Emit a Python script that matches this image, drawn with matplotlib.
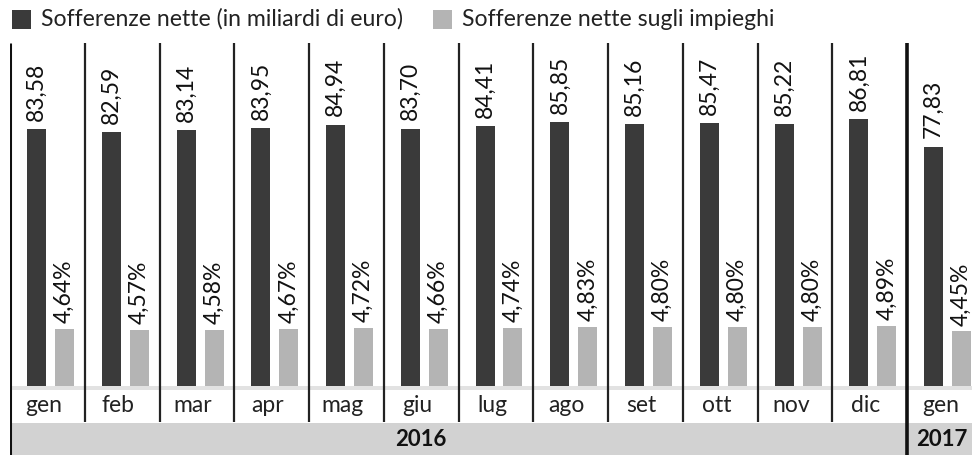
import matplotlib
matplotlib.use("Agg")
import matplotlib.pyplot as plt
from matplotlib.patches import Rectangle

months = ["gen", "feb", "mar", "apr", "mag", "giu", "lug", "ago", "set", "ott", "nov", "dic", "gen"]
sofferenze = [83.58, 82.59, 83.14, 83.95, 84.94, 83.70, 84.41, 85.85, 85.16, 85.47, 85.22, 86.81, 77.83]
rapporto = [4.64, 4.57, 4.58, 4.67, 4.72, 4.66, 4.74, 4.83, 4.80, 4.80, 4.80, 4.89, 4.45]
years = ["2016", "2017"]
year_groups = [12, 1]
legend_labels = ["Sofferenze nette (in miliardi di euro)", "Sofferenze nette sugli impieghi"]

DARK = "#3a3a3a"
LIGHT = "#b4b4b4"
FONT = "Lato"
WEIGHT = "normal"

W, H = 972, 455
fig = plt.figure(figsize=(W / 100, H / 100), dpi=100)

GW = 74.75   # group width in px
X0 = 10      # left border in px
n = len(months)
xmax = (W - X0) / GW


def fx(px):
    return px / W


def fy(py):
    return 1 - py / H


# frame axes in group units (x) and pixel units (y, top-down)
fr = fig.add_axes([fx(X0), 0, 1 - fx(X0), 1])
fr.set_xlim(0, xmax)
fr.set_ylim(H, 0)
fr.axis("off")

# year band
start = 0
year_pos = [5.5, 12.47]
for yr, g, cx in zip(years, year_groups, year_pos):
    fr.add_patch(Rectangle((start + 0.02, 423), g - 0.04, 32, facecolor="#d2d2d2", edgecolor="none"))
    fr.text(cx, 440, yr, ha="center", va="center", fontsize=16, fontweight="bold",
            family=FONT, color="#111111")
    start += g

# dotted band under bars
fr.add_patch(Rectangle((0, 386), xmax, 4, facecolor="#e2e2e2", edgecolor="none"))

# separators
fr.plot([0, 0], [43, 455], color="#111111", lw=2.2, solid_capstyle="butt")
for i in range(1, n):
    if i == year_groups[0]:
        fr.plot([i, i], [43, 455], color="#111111", lw=2.6, solid_capstyle="butt")
    else:
        fr.plot([i, i], [43, 422], color="#222222", lw=1.6, solid_capstyle="butt")

# month labels
for i, m in enumerate(months):
    fr.text(i + 0.45, 405, m, ha="center", va="center", fontsize=16.5, family=FONT,
            fontweight=WEIGHT, color="#222222")

# bar axes
top, bot = 43, 386
ax = fig.add_axes([fx(X0), fy(bot), 1 - fx(X0), (bot - top) / H])
ax.set_xlim(0, xmax)
ax.set_ylim(0, (bot - top) / 3.075)
ax.axis("off")
ax2 = ax.twinx()
ax2.set_ylim(0, (bot - top) / 12.3)
ax2.axis("off")

xs = list(range(n))
bw = 19 / GW
dark_x = [x + 26.5 / GW for x in xs]
light_x = [x + 54.5 / GW for x in xs]
ax.bar(dark_x, sofferenze, width=bw, color=DARK)
ax2.bar(light_x, rapporto, width=bw, color=LIGHT)

for x, v in zip(dark_x, sofferenze):
    ax.annotate(f"{v:.2f}".replace(".", ","), (x, v), xytext=(0, 6), textcoords="offset points",
                rotation=90, ha="center", va="bottom", fontsize=16.5, family=FONT,
                fontweight=WEIGHT, color="#111111")
for x, v in zip(light_x, rapporto):
    ax2.annotate(f"{v:.2f}".replace(".", ",") + "%", (x, v), xytext=(0, 4), textcoords="offset points",
                 rotation=90, ha="center", va="bottom", fontsize=16.5, family=FONT,
                 fontweight=WEIGHT, color="#111111")

# legend
fig.patches.append(Rectangle((fx(12), fy(29)), fx(19), 19 / H, transform=fig.transFigure,
                             facecolor=DARK, edgecolor="none"))
fig.text(fx(41), fy(19), legend_labels[0], ha="left", va="center", fontsize=16.6, family=FONT,
         fontweight=WEIGHT, color="#222222")
fig.patches.append(Rectangle((fx(433), fy(29)), fx(19), 19 / H, transform=fig.transFigure,
                             facecolor=LIGHT, edgecolor="none"))
fig.text(fx(462), fy(19), legend_labels[1], ha="left", va="center", fontsize=16.6, family=FONT,
         fontweight=WEIGHT, color="#222222")

fig.savefig("out.png", dpi=100)
